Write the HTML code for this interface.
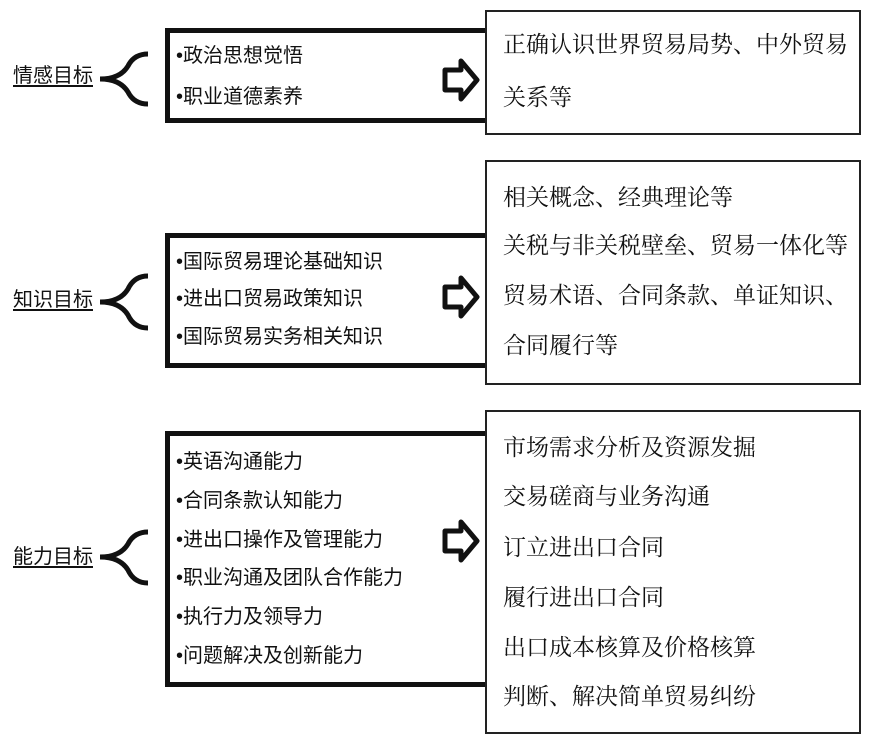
<!DOCTYPE html>
<html><head><meta charset="utf-8"><style>
body{margin:0;width:893px;height:740px;background:#fff;position:relative;overflow:hidden;font-family:"Liberation Sans","Noto Sans CJK SC",sans-serif;color:#111}
.lb{position:absolute;left:13px;font-size:20px;text-decoration:underline;text-underline-offset:3px;line-height:24px}
.lbox{position:absolute;left:165px;width:320px;border:5px solid #111;border-right:none;box-sizing:border-box}
.rbox{position:absolute;left:485px;width:376px;border:2px solid #222;box-sizing:border-box;background:#fff}
.t{position:absolute;white-space:nowrap;line-height:26px}
.l{font-size:20px;left:176px;font-family:"Liberation Sans","Noto Sans CJK SC",sans-serif}
.r{font-size:23px;left:503px;font-family:"Liberation Serif","Noto Serif CJK SC",serif}
svg{position:absolute}
</style></head><body>
<div class="lbox" style="top:28px;height:95px"></div>
<div class="lbox" style="top:233px;height:135px"></div>
<div class="lbox" style="top:431px;height:256px"></div>
<div class="rbox" style="top:10px;height:125px"></div>
<div class="rbox" style="top:160px;height:225px"></div>
<div class="rbox" style="top:410px;height:324px"></div>

<div class="lb" style="top:64px">情感目标</div>
<div class="lb" style="top:288px">知识目标</div>
<div class="lb" style="top:545px">能力目标</div>

<svg width="893" height="740" style="left:0;top:0">
<g fill="none" stroke="#111" stroke-width="5">
<path d="M100 79 Q120 79 128 66 Q134 54 148 54"/><path d="M100 79 Q120 79 128 92 Q134 104 148 104"/>
<path d="M100 302 Q120 302 128 289 Q134 276 148 276"/><path d="M100 302 Q120 302 128 315 Q134 328 148 328"/>
<path d="M100 557 Q120 557 128 544 Q134 532 148 532"/><path d="M100 557 Q120 557 128 570 Q134 583 148 583"/>
</g>
<g fill="#fff" stroke="#111" stroke-width="5" stroke-linejoin="round">
<path d="M445 70 L461 70 L461 61 L477 80 L461 99 L461 90 L445 90 Z"/>
<path d="M445 287 L461 287 L461 278 L477 297 L461 316 L461 307 L445 307 Z"/>
<path d="M445 531 L461 531 L461 522 L477 541 L461 560 L461 551 L445 551 Z"/>
</g>
</svg>

<div class="t l" style="top:43px">•政治思想觉悟</div>
<div class="t l" style="top:84px">•职业道德素养</div>
<div class="t l" style="top:249px">•国际贸易理论基础知识</div>
<div class="t l" style="top:286px">•进出口贸易政策知识</div>
<div class="t l" style="top:324px">•国际贸易实务相关知识</div>
<div class="t l" style="top:449px">•英语沟通能力</div>
<div class="t l" style="top:488px">•合同条款认知能力</div>
<div class="t l" style="top:527px">•进出口操作及管理能力</div>
<div class="t l" style="top:565px">•职业沟通及团队合作能力</div>
<div class="t l" style="top:604px">•执行力及领导力</div>
<div class="t l" style="top:643px">•问题解决及创新能力</div>

<div class="t r" style="top:32px">正确认识世界贸易局势、中外贸易</div>
<div class="t r" style="top:85px">关系等</div>
<div class="t r" style="top:185px">相关概念、经典理论等</div>
<div class="t r" style="top:233px">关税与非关税壁垒、贸易一体化等</div>
<div class="t r" style="top:283px">贸易术语、合同条款、单证知识、</div>
<div class="t r" style="top:333px">合同履行等</div>
<div class="t r" style="top:435px">市场需求分析及资源发掘</div>
<div class="t r" style="top:484px">交易磋商与业务沟通</div>
<div class="t r" style="top:535px">订立进出口合同</div>
<div class="t r" style="top:585px">履行进出口合同</div>
<div class="t r" style="top:635px">出口成本核算及价格核算</div>
<div class="t r" style="top:684px">判断、解决简单贸易纠纷</div>
</body></html>
